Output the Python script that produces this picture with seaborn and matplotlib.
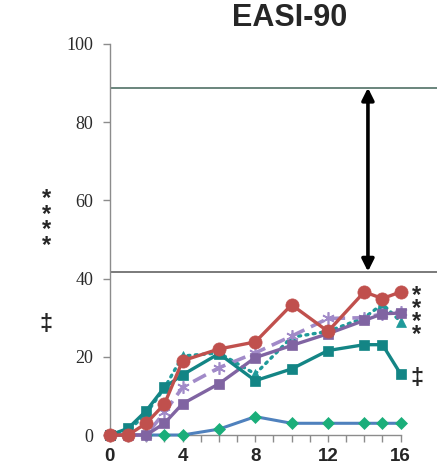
import numpy as np
import matplotlib
matplotlib.use("Agg")
import matplotlib.pyplot as plt
import seaborn as sns

# weeks and response rates (%)
weeks = [0, 1, 2, 3, 4, 6, 8, 10, 12, 14, 15, 16]
red_circle = [0, 0, 3.0, 7.9, 19.0, 22.0, 23.8, 33.3, 26.5, 36.6, 34.9, 36.6]
teal_square = [0, 1.7, 6.2, 12.2, 15.4, 20.8, 13.9, 16.9, 21.6, 23.1, 23.1, 15.6]
purple_square = [0, 0, 0, 3.0, 8.0, 13.1, 19.8, 22.9, 25.9, 29.3, 31.0, 31.2]
purple_asterisk = [0, 0, 0, 5.8, 12.2, 17.2, 21.0, 25.3, 29.8, 30.0, 31.0, 31.5]
teal_triangle = [0, 1.0, 5.5, 12.0, 20.2, 21.0, 15.6, 25.0, 26.5, 30.0, 33.5, 29.0]
placebo = [0, 0, 0, 0, 0, 1.5, 4.7, 3.0, 3.0, 3.0, 3.0, 3.0]

ref_top = 88.8
ref_bottom = 41.8
arrow_week = 14.2

sns.set_style("white")
plt.rcParams['font.family'] = ['Liberation Sans', 'DejaVu Sans']

fig = plt.figure(figsize=(4.45, 4.71), dpi=100)
ax = fig.add_axes([0.247, 0.0764, 0.735, 0.8302])

common = dict(clip_on=False, ax=ax, legend=False)

sns.lineplot(x=weeks, y=placebo, color='#4F81BD', linewidth=2.2, marker='D',
             markersize=6, markerfacecolor='#1AAE7A', markeredgecolor='#1AAE7A',
             markeredgewidth=0.5, zorder=3, **common)
sns.lineplot(x=weeks, y=teal_triangle, color='#1F9A9A', linewidth=2.4,
             linestyle=(0, (0.6, 1.6)), dash_capstyle='round', marker='^',
             markersize=7, markeredgecolor='#1F9A9A', markeredgewidth=0.5,
             zorder=4, **common)
sns.lineplot(x=weeks, y=purple_asterisk, color='#A18AC8', linewidth=2.6,
             linestyle=(0, (4, 2)), marker=(6, 2, 0), markersize=9,
             markeredgecolor='#A18AC8', markeredgewidth=1.2, zorder=5, **common)
sns.lineplot(x=weeks, y=purple_square, color='#8064A2', linewidth=2.4, marker='s',
             markersize=7.5, markeredgecolor='#8064A2', markeredgewidth=0.5,
             zorder=6, **common)
sns.lineplot(x=weeks, y=teal_square, color='#138585', linewidth=2.4, marker='s',
             markersize=7.5, markeredgecolor='#138585', markeredgewidth=0.5,
             zorder=7, **common)
sns.lineplot(x=weeks, y=red_circle, color='#C0504D', linewidth=2.4, marker='o',
             markersize=9.5, markeredgecolor='#C0504D', markeredgewidth=0.5,
             zorder=8, **common)

# reference lines and the double arrow between them
ax.axhline(ref_top, color='#5E7C72', linewidth=1.3, zorder=2)
ax.axhline(ref_bottom, color='#6F6F6F', linewidth=1.3, zorder=2)
ax.annotate('', xy=(arrow_week, ref_top), xytext=(arrow_week, ref_bottom),
            arrowprops=dict(arrowstyle='<|-|>', color='black', lw=2.6,
                            mutation_scale=18, shrinkA=0, shrinkB=0), zorder=9)

ax.set_xlim(0, 18)
ax.set_ylim(0, 100)
ax.set_xticks(np.arange(0, 17, 1), minor=True)
ax.set_xticks([0, 4, 8, 12, 16])
ax.set_yticks([0, 20, 40, 60, 80, 100])
ax.tick_params(axis='x', which='both', direction='out', length=5, width=1,
               color='#8C8C8C', bottom=True, pad=4)
ax.tick_params(axis='y', direction='out', length=5, width=1, color='#8C8C8C',
               left=True, pad=7)
for lab in ax.get_xticklabels():
    lab.set_fontweight('bold')
    lab.set_fontsize(13.5)
for lab in ax.get_yticklabels():
    lab.set_family('Liberation Serif')
    lab.set_fontsize(13)
    lab.set_color('#2A2A2A')

for side in ['top', 'right']:
    ax.spines[side].set_visible(False)
for side in ['left', 'bottom']:
    ax.spines[side].set_color('#8C8C8C')
    ax.spines[side].set_linewidth(1)
ax.spines['bottom'].set_bounds(0, 16)

fig.text(0.65, 0.962, 'EASI-90', ha='center', va='center',
         fontsize=22, fontweight='bold')

# significance markers
def mark(xpix, ypix, s, spacing=1.0):
    fig.text(xpix / 445, 1 - ypix / 471, s, ha='center', va='center',
             fontsize=17, fontweight='bold', linespacing=spacing)

mark(46, 222, '*\n*\n*\n*', 0.58)
mark(46, 324, '‡')
mark(417, 315, '*\n*\n*\n*', 0.45)
mark(417, 379, '‡')

fig.savefig('out.png', dpi=100)
